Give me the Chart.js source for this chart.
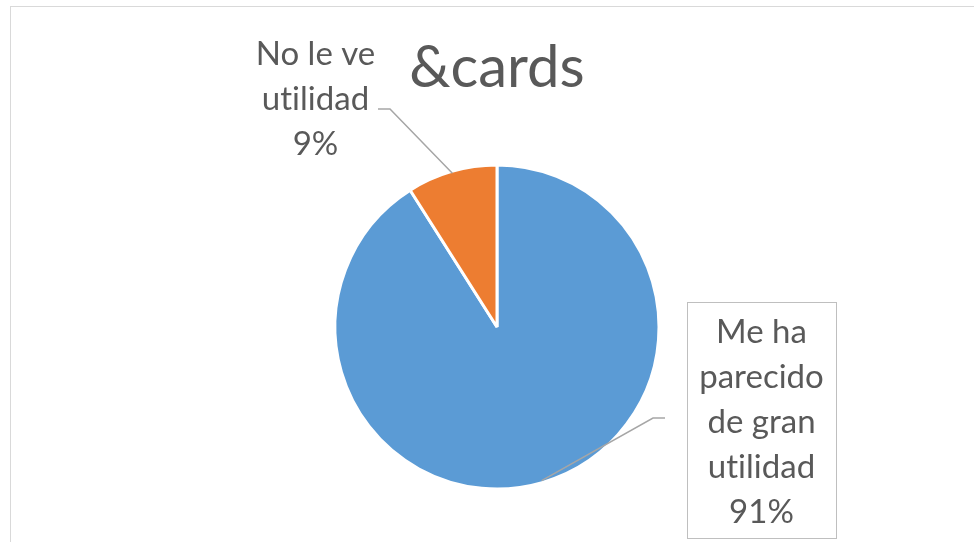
<!DOCTYPE html>
<html>
<head>
<meta charset="utf-8">
<script src="https://cdn.jsdelivr.net/npm/chart.js@4"></script>
<style>
  html, body { margin: 0; padding: 0; background: #fff; }
  #wrap { width: 974px; height: 542px; position: relative; }
</style>
</head>
<body>
<div id="wrap"><canvas id="myChart" width="974" height="542"></canvas></div>
<script>
// Datos
const categorias = [
  ["Me ha", "parecido", "de gran", "utilidad"],
  ["No le ve", "utilidad"]
];
const valores = [91, 9];
const colores = ["#5B9BD5", "#ED7D31"];
const titulo = "&cards";

// Etiquetas con lineas guia (estilo Excel)
const etiquetas = {
  id: "etiquetas",
  beforeDraw(chart) {
    const c = chart.ctx;
    c.save();
    c.strokeStyle = "#d9d9d9";
    c.lineWidth = 1;
    c.strokeRect(10.5, 6.5, 1000, 600);
    c.restore();
  },
  afterDraw(chart) {
    const c = chart.ctx;
    const arcs = chart.getDatasetMeta(0).data;
    const total = valores.reduce((a, b) => a + b, 0);
    // codo y extremo de la linea guia, centro del texto, caja
    const pos = [
      { codo: [653, 418], fin: [665, 418], x: 761.5, y: 343, caja: [687.5, 302.5, 149, 236] },
      { codo: [390, 109], fin: [378, 109], x: 315.5, y: 65, caja: null }
    ];

    c.save();
    c.letterSpacing = "0.01px"; // sin ligaduras "ti"
    // titulo
    c.fillStyle = "#595959";
    c.font = "58px Lato";
    c.textAlign = "center";
    c.textBaseline = "alphabetic";
    c.fillText(titulo, 497, 87);

    arcs.forEach((arc, i) => {
      const p = pos[i];
      const a = (arc.startAngle + arc.endAngle) / 2;
      const r = arc.outerRadius - 2;
      const sx = arc.x + Math.cos(a) * r;
      const sy = arc.y + Math.sin(a) * r;
      c.strokeStyle = "#a6a6a6";
      c.lineWidth = 1.5;
      c.beginPath();
      c.moveTo(sx, sy);
      c.lineTo(p.codo[0], p.codo[1]);
      c.lineTo(p.fin[0], p.fin[1]);
      c.stroke();

      if (p.caja) {
        c.strokeStyle = "#bfbfbf";
        c.lineWidth = 1;
        c.strokeRect(...p.caja);
      }

      const lineas = categorias[i].concat([Math.round(valores[i] / total * 100) + "%"]);
      c.fillStyle = "#595959";
      c.font = "33px Lato";
      c.textAlign = "center";
      lineas.forEach((t, k) => c.fillText(t, p.x, p.y + k * 45));
    });
    c.restore();
  }
};

const ctx = document.getElementById("myChart");

new Chart(ctx, {
  type: "pie",
  data: {
    labels: categorias,
    datasets: [
      {
        data: valores,
        backgroundColor: colores,
        borderColor: "#ffffff",
        borderWidth: 3,
        radius: 162,
      },
    ],
  },
  options: {
    responsive: false,
    maintainAspectRatio: false,
    animation: false,
    events: [],
    layout: { padding: { top: 112, bottom: 0, left: 20, right: 0 } },
    plugins: {
      legend: { display: false },
      tooltip: { enabled: false },
      title: { display: false },
    },
  },
  plugins: [etiquetas],
});
</script>
</body>
</html>
